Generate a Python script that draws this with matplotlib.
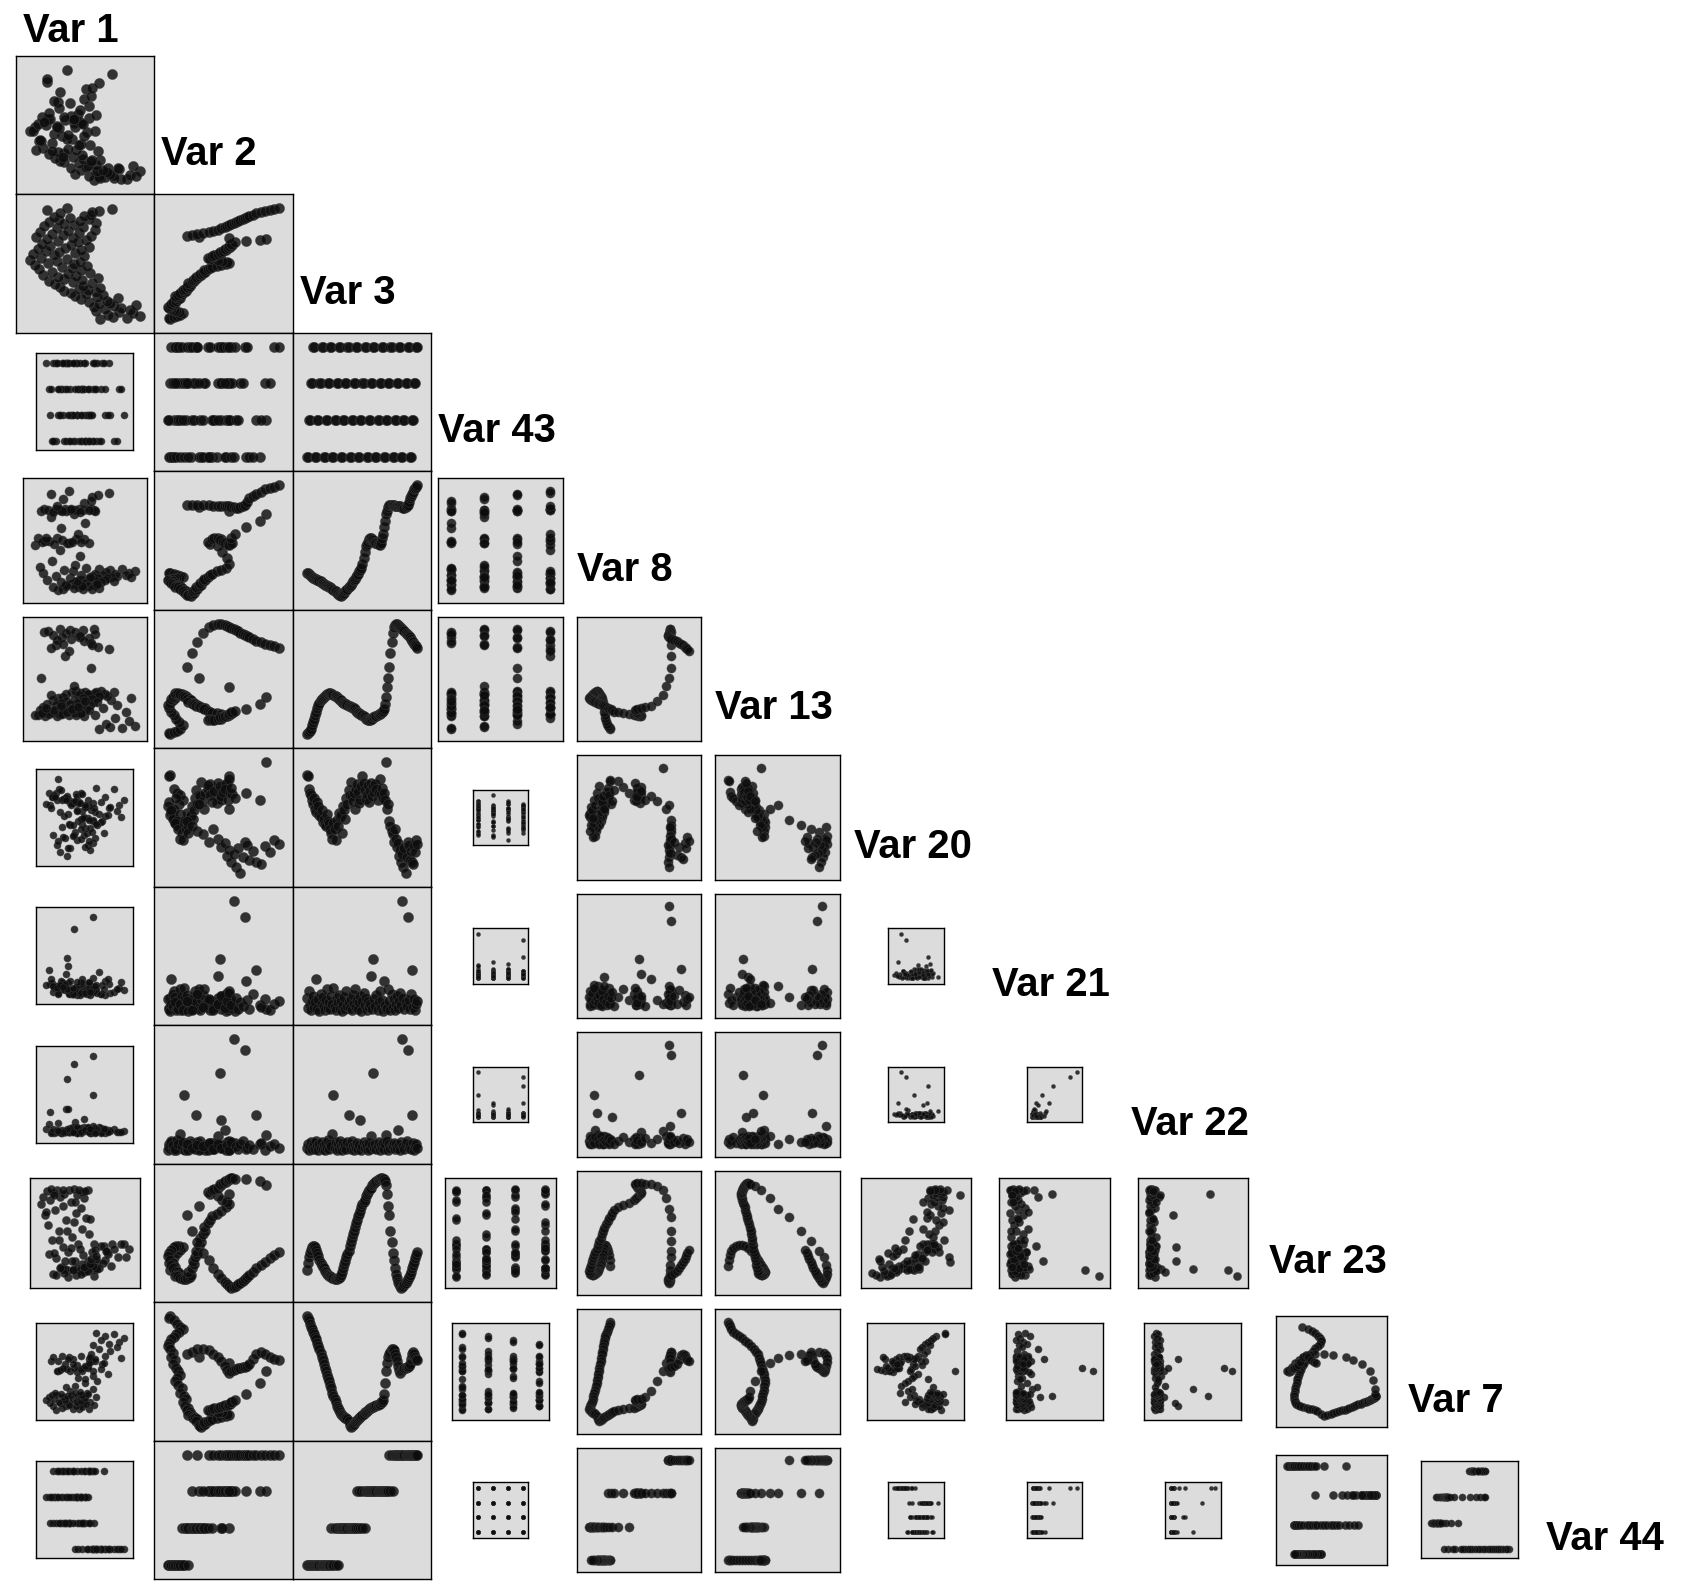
import matplotlib
matplotlib.use("Agg")
import matplotlib.pyplot as plt

var_names = ["Var 1", "Var 2", "Var 3", "Var 43", "Var 8", "Var 13",
             "Var 20", "Var 21", "Var 22", "Var 23", "Var 7", "Var 44"]

var_1 = [62, 85, 73, 97, 69, 91, 78, 58,
         88, 66, 80, 56, 74, 93, 61, 70,
         52, 68, 45, 77, 59, 40, 64, 49,
         36, 58, 30, 51, 43, 62, 27, 47,
         22, 55, 38, 17, 46, 30, 60, 25,
         41, 12, 34, 53, 20, 45, 8, 37,
         28, 50, 5, 39, 16, 44, 24, 0,
         33, 10, 48, 21, 3, 40, 26, 14,
         45, 7, 31, 52, 18, 36, 11, 42,
         25, 49, 15, 38, 6, 54, 29, 20,
         43, 9, 34, 57, 24, 47, 13, 39,
         30, 58, 17, 44, 26, 52, 35, 21,
         48, 54, 27, 55, 61, 15, 72, 33]

var_2 = [3, 2, 6, 9, 12, 14, 11, 8,
         6, 4, 2, 1, 3, 5, 4, 7,
         5, 8, 10, 12, 9, 7, 10, 13,
         12, 15, 17, 14, 16, 19, 18, 20,
         21, 19, 22, 24, 23, 25, 27, 26,
         28, 30, 29, 32, 34, 33, 36, 38,
         40, 44, 48, 52, 55, 53, 49, 45,
         38, 36, 40, 42, 45, 48, 47, 50,
         52, 51, 54, 56, 55, 58, 57, 60,
         70, 82, 88, 55, 28, 18, 22, 27,
         32, 37, 41, 45, 48, 51, 53, 55,
         57, 59, 61, 63, 65, 67, 69, 71,
         73, 76, 79, 83, 87, 91, 95, 99]

var_3 = [1, 2, 3, 4, 5, 6, 7, 8, 9, 10, 11, 12, 13, 14, 15, 16,
         17, 18, 19, 20, 21, 22, 23, 24, 25, 26, 27, 28, 29, 30, 31, 32,
         33, 34, 35, 36, 37, 38, 39, 40, 41, 42, 43, 44, 45, 46, 47, 48,
         49, 50, 51, 52, 53, 54, 55, 56, 57, 58, 59, 60, 61, 62, 63, 64,
         65, 66, 67, 68, 69, 70, 71, 72, 73, 74, 75, 76, 77, 78, 79, 80,
         81, 82, 83, 84, 85, 86, 87, 88, 89, 90, 91, 92, 93, 94, 95, 96,
         97, 98, 99, 100, 101, 102, 103, 104]

var_43 = [1, 1, 2, 2, 3, 3, 4, 4, 1, 1, 2, 2, 3, 3, 4, 4,
          1, 1, 2, 2, 3, 3, 4, 4, 1, 1, 2, 2, 3, 3, 4, 4,
          1, 1, 2, 2, 3, 3, 4, 4, 1, 1, 2, 2, 3, 3, 4, 4,
          1, 1, 2, 2, 3, 3, 4, 4, 1, 1, 2, 2, 3, 3, 4, 4,
          1, 1, 2, 2, 3, 3, 4, 4, 1, 1, 2, 2, 3, 3, 4, 4,
          1, 1, 2, 2, 3, 3, 4, 4, 1, 1, 2, 2, 3, 3, 4, 4,
          1, 1, 2, 2, 3, 3, 4, 4]

var_8 = [21, 21, 20, 19, 18, 17, 16, 16,
         15, 15, 14, 14, 13, 13, 12, 12,
         11, 10, 10, 9, 9, 8, 8, 7,
         6, 5, 4, 4, 3, 2, 1, 1,
         0, 1, 2, 3, 4, 5, 6, 8,
         9, 10, 12, 13, 14, 15, 17, 19,
         20, 22, 23, 25, 29, 34, 40, 45,
         47, 49, 51, 52, 52, 51, 50, 49,
         48, 48, 47, 47, 46, 48, 52, 56,
         62, 68, 74, 77, 80, 82, 82, 82,
         82, 82, 81, 81, 81, 81, 81, 81,
         80, 80, 79, 79, 80, 81, 82, 85,
         88, 90, 92, 94, 96, 97, 98, 100]

var_13 = [0, 1, 2, 3, 5, 8, 11, 14,
          17, 20, 23, 26, 28, 30, 31, 32,
          33, 34, 35, 36, 36, 37, 37, 36,
          36, 35, 34, 34, 33, 32, 31, 30,
          30, 29, 28, 28, 27, 27, 26, 25,
          25, 24, 24, 23, 23, 22, 21, 20,
          19, 19, 18, 17, 17, 16, 15, 14,
          14, 13, 13, 13, 14, 14, 15, 15,
          16, 16, 17, 18, 18, 19, 20, 21,
          22, 27, 33, 42, 50, 60, 72, 82,
          90, 95, 97, 98, 98, 97, 96, 95,
          94, 93, 92, 91, 90, 89, 88, 87,
          86, 84, 83, 82, 80, 79, 78, 76]

var_20 = [88, 87, 76, 72, 70, 66, 62, 68,
          58, 55, 64, 60, 52, 50, 57, 46,
          49, 44, 42, 53, 47, 45, 40, 36,
          31, 45, 40, 30, 48, 42, 54, 50,
          52, 36, 60, 57, 49, 68, 62, 75,
          70, 82, 69, 65, 72, 58, 76, 80,
          73, 63, 66, 78, 87, 81, 75, 67,
          70, 79, 64, 74, 81, 69, 78, 73,
          80, 76, 66, 72, 85, 71, 77, 68,
          72, 66, 100, 58, 62, 47, 42, 38,
          35, 28, 40, 31, 23, 27, 15, 21,
          10, 17, 5, 22, 0, 14, 28, 25,
          12, 20, 10, 8, 24, 19, 30, 26]

var_21 = [12, 3, 18, 6, 1, 9, 14, 4,
          8, 29, 2, 11, 0, 16, 7, 13,
          5, 1, 10, 20, 3, 8, 2, 14,
          7, 21, 4, 1, 12, 8, 15, 2,
          9, 0, 6, 13, 2, 18, 5, 8,
          3, 11, 1, 15, 7, 20, 4, 10,
          2, 8, 14, 0, 9, 17, 6, 12,
          1, 9, 4, 7, 32, 2, 47, 11,
          5, 15, 1, 8, 18, 3, 10, 0,
          27, 6, 2, 3, 20, 9, 1, 16,
          4, 11, 1, 7, 14, 3, 9, 17,
          6, 100, 12, 2, 8, 5, 85, 10,
          2, 16, 37, 4, 11, 1, 7, 9]

var_22 = [3, 6, 1, 4, 8, 2, 5, 7,
          2, 9, 4, 1, 6, 3, 8, 2,
          5, 1, 7, 3, 10, 2, 6, 4,
          15, 50, 3, 8, 1, 6, 2, 9,
          4, 1, 7, 3, 5, 2, 8, 32,
          6, 2, 9, 4, 1, 5, 3, 7,
          2, 5, 28, 1, 4, 8, 3, 6,
          4, 1, 7, 2, 13, 5, 70, 3,
          6, 2, 4, 8, 1, 5, 3, 7,
          2, 6, 14, 9, 1, 6, 3, 5,
          4, 7, 2, 6, 3, 19, 5, 1,
          8, 100, 4, 2, 6, 9, 90, 3,
          5, 2, 32, 7, 1, 4, 6, 3]

var_23 = [17, 23, 28, 32, 35, 37, 38, 38,
          37, 35, 32, 29, 26, 23, 21, 19,
          18, 16, 15, 13, 12, 11, 11, 10,
          9, 9, 8, 8, 8, 9, 9, 10,
          12, 15, 18, 22, 25, 28, 31, 34,
          38, 42, 45, 49, 52, 55, 59, 62,
          65, 67, 70, 73, 76, 78, 80, 83,
          85, 87, 89, 90, 91, 93, 94, 95,
          96, 97, 98, 99, 99, 100, 100, 99,
          99, 97, 93, 85, 74, 66, 52, 42,
          32, 26, 18, 13, 9, 6, 4, 2,
          0, 1, 2, 4, 5, 7, 8, 10,
          12, 15, 18, 21, 24, 27, 30, 33]

var_7 = [100, 98, 96, 93, 90, 88, 86, 84,
         81, 79, 76, 73, 70, 67, 63, 60,
         57, 53, 50, 47, 44, 41, 38, 35,
         31, 28, 25, 22, 19, 17, 15, 13,
         12, 11, 10, 9, 8, 8, 7, 5,
         2, 0, 1, 2, 3, 4, 5, 6,
         7, 8, 9, 10, 11, 12, 13, 13,
         14, 15, 16, 17, 17, 18, 18, 19,
         19, 20, 20, 21, 21, 22, 22, 24,
         30, 40, 50, 58, 63, 66, 68, 70,
         70, 69, 66, 63, 59, 55, 51, 49,
         50, 51, 52, 53, 53, 54, 54, 55,
         57, 61, 66, 68, 66, 63, 61, 60]

var_44 = [1, 1, 1, 1, 1, 1, 1, 1,
          1, 1, 1, 1, 1, 1, 1, 1,
          1, 1, 1, 1, 1, 1, 1, 2,
          1, 1, 2, 1, 2, 1, 2, 2,
          2, 2, 2, 2, 2, 2, 2, 2,
          2, 2, 2, 2, 2, 2, 2, 3,
          2, 3, 2, 3, 2, 3, 2, 3,
          3, 3, 3, 3, 3, 3, 3, 3,
          3, 3, 3, 3, 3, 3, 3, 3,
          3, 3, 3, 3, 3, 4, 3, 4,
          3, 4, 4, 4, 4, 4, 4, 4,
          4, 4, 4, 4, 4, 4, 4, 4,
          4, 4, 4, 4, 4, 4, 4, 4]

series = [var_1, var_2, var_3, var_43, var_8, var_13,
          var_20, var_21, var_22, var_23, var_7, var_44]

# relative panel size (fraction of the grid cell) for row r (y = var r+1), col c (x = var c)
panel_scale = [
    [1.0],
    [1.0, 1.0],
    [0.7, 1.0, 1.0],
    [0.9, 1.0, 1.0, 0.9],
    [0.9, 1.0, 1.0, 0.9, 0.9],
    [0.7, 1.0, 1.0, 0.4, 0.9, 0.9],
    [0.7, 1.0, 1.0, 0.4, 0.9, 0.9, 0.4],
    [0.7, 1.0, 1.0, 0.4, 0.9, 0.9, 0.4, 0.4],
    [0.8, 1.0, 1.0, 0.8, 0.9, 0.9, 0.8, 0.8, 0.8],
    [0.7, 1.0, 1.0, 0.7, 0.9, 0.9, 0.7, 0.7, 0.7, 0.8],
    [0.7, 1.0, 1.0, 0.4, 0.9, 0.9, 0.4, 0.4, 0.4, 0.8, 0.7],
]

W, H = 1686, 1590
X0, Y0, CELL = 15.7, 55.7, 138.5


def padded(v):
    lo, hi = min(v), max(v)
    pad = (hi - lo) * 0.125
    return lo - pad, hi + pad


fig = plt.figure(figsize=(W / 100, H / 100), dpi=100)
fig.patch.set_facecolor("white")

for r in range(11):
    yv = series[r + 1]
    for c in range(r + 1):
        xv = series[c]
        s = panel_scale[r][c]
        side = s * CELL
        left = X0 + c * CELL + (CELL - side) / 2
        top = Y0 + r * CELL + (CELL - side) / 2
        ax = fig.add_axes([left / W, 1 - (top + side) / H, side / W, side / H])
        ax.set_facecolor("#dcdcdc")
        d_pt = 10.2 * s * 0.72
        ax.scatter(xv, yv, s=d_pt ** 2, c="#0d0d0d", alpha=0.82,
                   edgecolors="#444444", linewidths=0.35, zorder=2)
        ax.set_xlim(*padded(xv))
        ax.set_ylim(*padded(yv))
        ax.set_xticks([])
        ax.set_yticks([])
        for sp in ax.spines.values():
            sp.set_linewidth(1.0)
            sp.set_color("black")

for i, name in enumerate(var_names):
    if i == 0:
        x, yb = X0 + 7.5, 41.7
    else:
        x = X0 + i * CELL + 7
        yb = Y0 + i * CELL - 29
    fig.text(x / W, 1 - yb / H, name, fontsize=28.8, fontweight="bold",
             family=["Liberation Sans", "DejaVu Sans"], ha="left", va="baseline")

fig.savefig("out.png", dpi=100)
